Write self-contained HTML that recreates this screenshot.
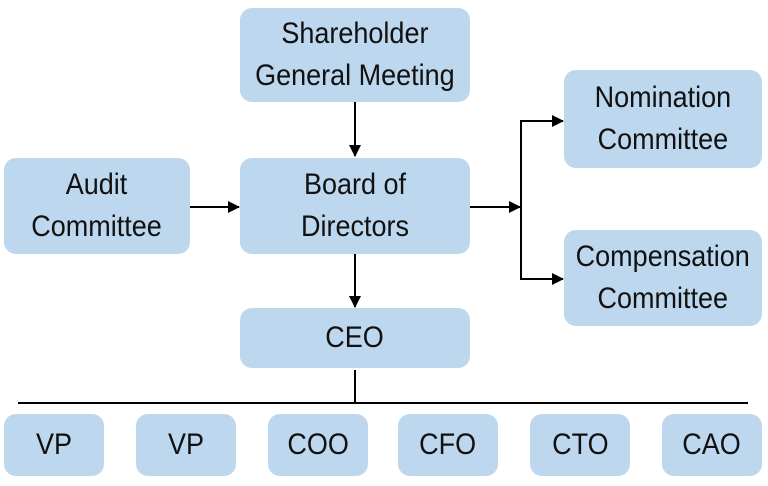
<!DOCTYPE html>
<html><head><style>
body{margin:0;width:768px;height:486px;background:#fff;position:relative;overflow:hidden;font-family:"Liberation Sans",sans-serif;}
.b{position:absolute;background:#bdd7ee;border-radius:12px;display:flex;align-items:center;justify-content:center;text-align:center;font-size:30px;line-height:42px;color:#111;}
.b span{display:inline-block;transform:scaleX(0.9);white-space:nowrap}
svg{position:absolute;left:0;top:0}
</style></head><body>
<svg width="768" height="486">
<defs><marker id="a" markerWidth="12" markerHeight="12" refX="11" refY="6" orient="auto" markerUnits="userSpaceOnUse"><path d="M0,0 L12,6 L0,12z" fill="#000"/></marker></defs>
<g stroke="#000" stroke-width="2" fill="none">
<line x1="355" y1="102" x2="355" y2="156" marker-end="url(#a)"/>
<line x1="190" y1="207" x2="239" y2="207" marker-end="url(#a)"/>
<line x1="470" y1="207" x2="520" y2="207" marker-end="url(#a)"/>
<polyline points="563,121 521,121 521,279 563,279"/>
<line x1="521" y1="121" x2="563" y2="121" marker-end="url(#a)"/>
<line x1="521" y1="279" x2="563" y2="279" marker-end="url(#a)"/>
<line x1="355" y1="254" x2="355" y2="307" marker-end="url(#a)"/>
<line x1="355" y1="370" x2="355" y2="403"/>
<line x1="18" y1="403" x2="748" y2="403"/>
</g></svg>
<div class="b" style="left:240px;top:8px;width:230px;height:94px"><span>Shareholder<br>General Meeting</span></div>
<div class="b" style="left:4px;top:158px;width:186px;height:96px"><span>Audit<br>Committee</span></div>
<div class="b" style="left:240px;top:158px;width:230px;height:96px"><span>Board of<br>Directors</span></div>
<div class="b" style="left:564px;top:70px;width:198px;height:98px"><span>Nomination<br>Committee</span></div>
<div class="b" style="left:564px;top:230px;width:198px;height:96px"><span>Compensation<br>Committee</span></div>
<div class="b" style="left:240px;top:308px;width:230px;height:60px"><span>CEO</span></div>
<div class="b" style="left:4px;top:414px;width:100px;height:62px"><span>VP</span></div>
<div class="b" style="left:136px;top:414px;width:100px;height:62px"><span>VP</span></div>
<div class="b" style="left:268px;top:414px;width:100px;height:62px"><span>COO</span></div>
<div class="b" style="left:398px;top:414px;width:100px;height:62px"><span>CFO</span></div>
<div class="b" style="left:530px;top:414px;width:100px;height:62px"><span>CTO</span></div>
<div class="b" style="left:662px;top:414px;width:100px;height:62px"><span>CAO</span></div>
</body></html>
